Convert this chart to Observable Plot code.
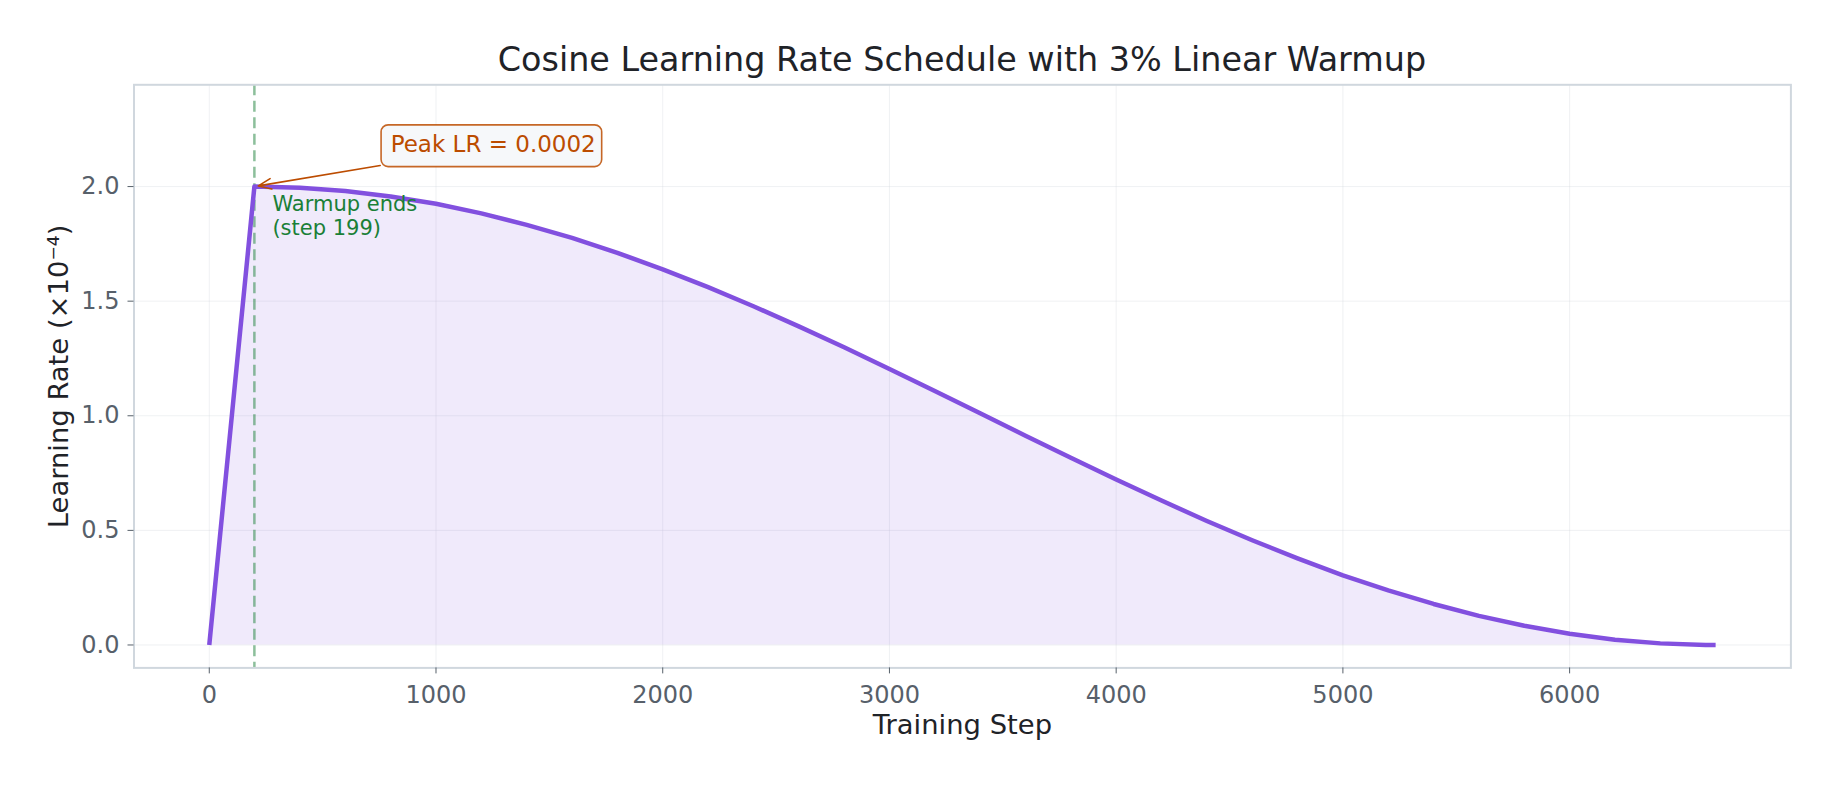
<!DOCTYPE html>
<html><head><meta charset="utf-8">
<script src="https://cdn.jsdelivr.net/npm/d3@7"></script>
<script src="https://cdn.jsdelivr.net/npm/@observablehq/plot@0.6"></script>
<style>
body{margin:0;background:#fff;font-family:'DejaVu Sans',sans-serif;}
#title{box-sizing:border-box;width:1836px;height:80px;padding:43px 45.6px 0 133.5px;font-size:33.4px;line-height:33px;text-align:center;color:#1f2328;white-space:nowrap;}
</style></head><body>
<div id="title">Cosine Learning Rate Schedule with 3% Linear Warmup</div>
<div id="chart"></div>
<script>
// Training steps (x) and learning rate in units of 1e-4 (y)
const steps = [0, 199, 400, 600, 800, 1000, 1200, 1400, 1600, 1800, 2000, 2200, 2400, 2600, 2800, 3000, 3200, 3400, 3600, 3800, 4000, 4200, 4400, 4600, 4800, 5000, 5200, 5400, 5600, 5800, 6000, 6200, 6400, 6600, 6644];
const lr = [0, 2.0, 1.995, 1.981, 1.957, 1.925, 1.883, 1.833, 1.776, 1.711, 1.639, 1.561, 1.478, 1.390, 1.299, 1.204, 1.108, 1.011, 0.913, 0.817, 0.722, 0.630, 0.541, 0.457, 0.378, 0.304, 0.238, 0.179, 0.127, 0.084, 0.049, 0.023, 0.007, 0.0002, 0];
const warmupEnd = [199];
const peakLR = [2.0];
const xTicks = [0, 1000, 2000, 3000, 4000, 5000, 6000];
const yTicks = [0, 0.5, 1.0, 1.5, 2.0];
const title = "Cosine Learning Rate Schedule with 3% Linear Warmup";
const xLabel = "Training Step";
const yLabel = "Learning Rate (×10⁻⁴)";
const peakNote = ["Peak LR = 0.0002"];
const warmupNote = ["Warmup ends\n(step 199)"];

const series = steps.map((s, i) => ({step: s, lr: lr[i]}));

const purple = "#8250df";
const orange = "#bc4c00";
const green = "#1a7f37";

const chart = Plot.plot({
  width: 1836,
  height: 706,
  marginLeft: 133.5,
  marginRight: 45.6,
  marginTop: 4.3,
  marginBottom: 118.6,
  style: {fontFamily: "'DejaVu Sans', sans-serif", background: "white", overflow: "visible"},
  x: {domain: [-332, 6976]},
  y: {domain: [-0.1, 2.444]},
  marks: [
    Plot.gridX({ticks: xTicks, stroke: "#d0d7de", strokeOpacity: 0.35, strokeWidth: 1}),
    Plot.gridY({ticks: yTicks, stroke: "#d0d7de", strokeOpacity: 0.35, strokeWidth: 1}),
    Plot.areaY(series, {x: "step", y: "lr", fill: purple, fillOpacity: 0.12}),
    Plot.ruleX(warmupEnd, {x: d => d, stroke: green, strokeOpacity: 0.5, strokeWidth: 2.5, strokeDasharray: "11,5.5"}),
    Plot.line(series, {x: "step", y: "lr", stroke: purple, strokeWidth: 4.5, strokeLinejoin: "round", strokeLinecap: "butt"}),
    Plot.frame({stroke: "#d0d7de", strokeWidth: 2}),
    Plot.axisX({ticks: xTicks, tickSize: 6, tickPadding: 12, fontSize: 24, tickFormat: d => String(d), label: null, color: "#57606a"}),
    Plot.axisY({ticks: yTicks, tickSize: 6, tickPadding: 8.5, fontSize: 24, tickFormat: d => d.toFixed(1), label: null, color: "#57606a"}),
    Plot.text([xLabel], {text: d => d, frameAnchor: "bottom", textAnchor: "middle", dy: 66, lineAnchor: "bottom", fontSize: 27.4, fill: "#1f2328"}),
    Plot.text([yLabel], {text: d => d, frameAnchor: "left", textAnchor: "middle", rotate: -90, dx: -66, lineAnchor: "bottom", fontSize: 27.4, fill: "#1f2328"}),
    // annotation: arrow from label box to peak
    Plot.arrow(warmupEnd, {x1: () => 754, y1: () => 2.092, x2: d => d, y2: (d, i) => peakLR[i], stroke: orange, strokeWidth: 1.6, headLength: 13, headAngle: 45, insetEnd: 4}),
    Plot.rect(peakNote, {x1: () => 760, x2: () => 1733, y1: () => 2.085, y2: () => 2.267, fill: "#f6f8fa", stroke: orange, strokeOpacity: 0.85, strokeWidth: 1.6, rx: 7}),
    Plot.text(peakNote, {text: d => d, x: () => 800, y: () => 2.15, textAnchor: "start", lineAnchor: "bottom", fontSize: 23, fill: orange}),
    Plot.text(warmupNote, {text: d => d, x: () => warmupEnd[0], y: () => peakLR[0], dx: 18, dy: 8.5, textAnchor: "start", lineAnchor: "top", lineHeight: 1.1, fontSize: 21, fill: green})
  ]
});
document.getElementById("chart").appendChild(chart);
</script></body></html>
